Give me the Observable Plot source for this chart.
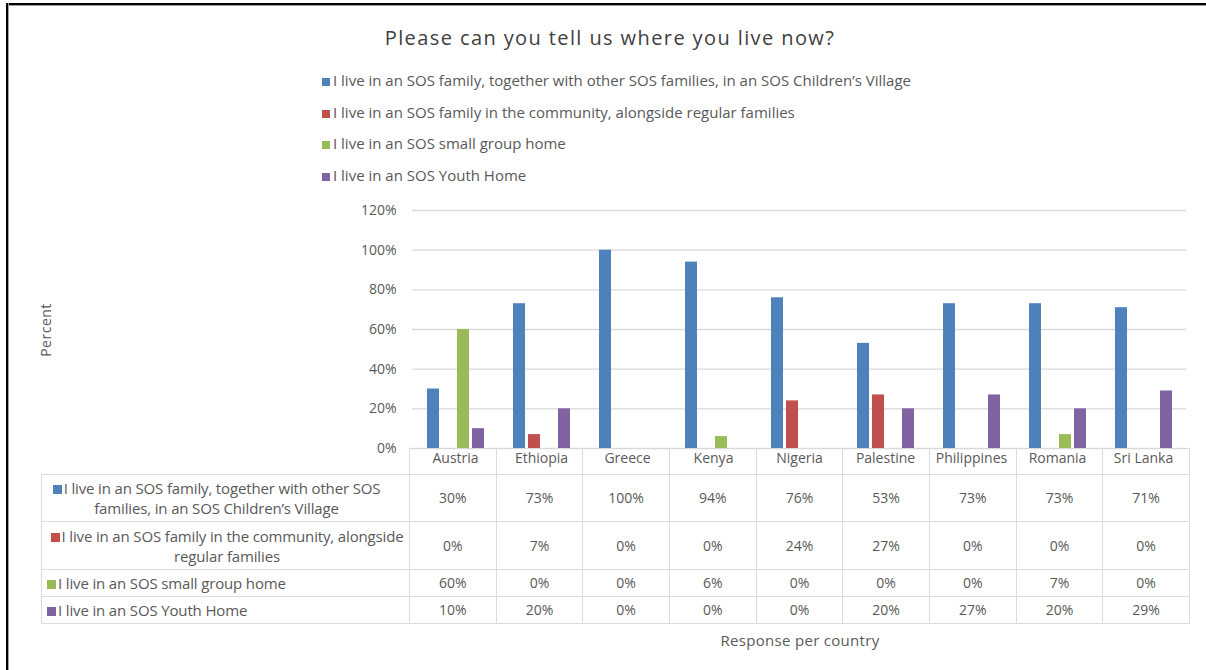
<!DOCTYPE html>
<html><head><meta charset="utf-8">
<script src="https://cdn.jsdelivr.net/npm/d3@7"></script>
<script src="https://cdn.jsdelivr.net/npm/@observablehq/plot@0.6"></script>
<style>
html,body{margin:0;padding:0;overflow:hidden;background:#fff}
body{font-family:"Open Sans",Lato,sans-serif;color:#595959}
#page{position:relative;width:1206px;height:670px;overflow:hidden;background:#fff}
#frameTop{position:absolute;left:6px;top:3px;width:1200px;height:2px;background:#000;border-bottom:1px solid #a0a0a0}
#frameLeft{position:absolute;left:6px;top:3px;width:2px;height:667px;background:#000;border-right:1px solid #a0a0a0}
#title{position:absolute;left:0;width:1206px;top:24px;text-align:center;font-size:20px;color:#404040;letter-spacing:1.4px;padding-left:14px;box-sizing:border-box}
#legend{position:absolute;left:322px;top:71px;font-size:15px;letter-spacing:0px}
#legend .item{height:31.5px;line-height:19px;white-space:nowrap}
.key{display:inline-block;width:8px;height:8px;margin-right:3px;vertical-align:0px}
#ylabel{position:absolute;left:45px;top:330px;transform:translate(-50%,-50%) rotate(-90deg);font-size:14px;white-space:nowrap;letter-spacing:0.5px}
#chart{position:absolute;left:0;top:190px;z-index:2}
#table{position:absolute;left:41px;top:448px;border-collapse:collapse;table-layout:fixed;width:1148px;font-size:14px;color:#595959;z-index:1}
#table td{border:1.5px solid #dcdcdc;text-align:center;padding:0;line-height:20px;white-space:nowrap}
#table td.lab{padding-left:5px;padding-right:2px;font-size:15px;letter-spacing:-0.15px}
#table td.lab.first{padding-left:0;padding-right:18px}
#table td.left{text-align:left}
#table tr.head td.blank{border-top:none;border-left:none}
#xlabel{position:absolute;left:800px;top:640px;transform:translate(-50%,-50%);font-size:15px;white-space:nowrap;letter-spacing:0.3px}
</style></head><body>
<div id="page">
  <div id="frameTop"></div><div id="frameLeft"></div>
  <div id="title">Please can you tell us where you live now?</div>
  <div id="legend"></div>
  <div id="ylabel">Percent</div>
  <div id="chart"></div>
  <table id="table"></table>
  <div id="xlabel">Response per country</div>
</div>
<script>
const countries = ["Austria","Ethiopia","Greece","Kenya","Nigeria","Palestine","Philippines","Romania","Sri Lanka"];
const seriesNames = [
  "I live in an SOS family, together with other SOS families, in an SOS Children’s Village",
  "I live in an SOS family in the community, alongside regular families",
  "I live in an SOS small group home",
  "I live in an SOS Youth Home"
];
const tableLabelLines = [
  ["I live in an SOS family, together with other SOS", "families, in an SOS Children’s Village"],
  ["I live in an SOS family in the community, alongside", "regular families"],
  ["I live in an SOS small group home"],
  ["I live in an SOS Youth Home"]
];
const seriesColors = ["#4F81BD","#C0504D","#9BBB59","#8064A2"];
const villageValues   = [30, 73, 100, 94, 76, 53, 73, 73, 71];
const communityValues = [0, 7, 0, 0, 24, 27, 0, 0, 0];
const smallGroupValues= [60, 0, 0, 6, 0, 0, 0, 7, 0];
const youthHomeValues = [10, 20, 0, 0, 0, 20, 27, 20, 29];
const seriesValues = [villageValues, communityValues, smallGroupValues, youthHomeValues];
const yTicks = [0, 20, 40, 60, 80, 100, 120];

const data = countries.flatMap((c, i) => seriesNames.map((s, j) => ({country: c, series: s, value: seriesValues[j][i]})));

// legend
const legend = document.getElementById("legend");
seriesNames.forEach((s, j) => {
  const d = document.createElement("div");
  d.className = "item";
  d.innerHTML = `<span class="key" style="background:${seriesColors[j]}"></span>${s}`;
  legend.appendChild(d);
});

const chart = Plot.plot({
  width: 1206, height: 283,
  marginTop: 20, marginBottom: 25, marginLeft: 409, marginRight: 17,
  style: {fontFamily: "'Open Sans', Lato, sans-serif", fontSize: "14px", color: "#595959", background: "transparent"},
  fx: {domain: countries, padding: 0, label: null, axis: "bottom", tickSize: 0, tickPadding: 5},
  x: {domain: seriesNames, paddingInner: 0.2, paddingOuter: 0.8, axis: null},
  y: {domain: [0, 120], ticks: yTicks, tickFormat: d => d + "%", tickSize: 0, tickPadding: 16, label: null},
  color: {domain: seriesNames, range: seriesColors},
  marks: [
    Plot.gridY(yTicks, {stroke: "#d9d9d9", strokeOpacity: 1, strokeWidth: 1.3}),
    Plot.barY(data, {fx: "country", x: "series", y: "value", fill: "series"})
  ]
});
document.getElementById("chart").appendChild(chart);

// data table
const table = document.getElementById("table");
const colW = (1148 - 368) / countries.length;
let html = `<colgroup><col style="width:368px">${countries.map(() => `<col style="width:${colW}px">`).join("")}</colgroup>`;
html += `<tr class="head" style="height:26px"><td class="blank"></td>${countries.map(() => "<td></td>").join("")}</tr>`;
const rowH = [47, 48, 27, 27];
seriesNames.forEach((s, j) => {
  const lines = tableLabelLines[j];
  const cls = lines.length > 1 ? (j === 0 ? "lab first" : "lab") : "lab left";
  const label = `<span class="key" style="background:${seriesColors[j]};width:9px;height:9px;margin-right:2px"></span>` + lines.join("<br>");
  html += `<tr style="height:${rowH[j]}px"><td class="${cls}">${label}</td>${seriesValues[j].map(v => `<td>${v}%</td>`).join("")}</tr>`;
});
table.innerHTML = html;
</script>
</body></html>
